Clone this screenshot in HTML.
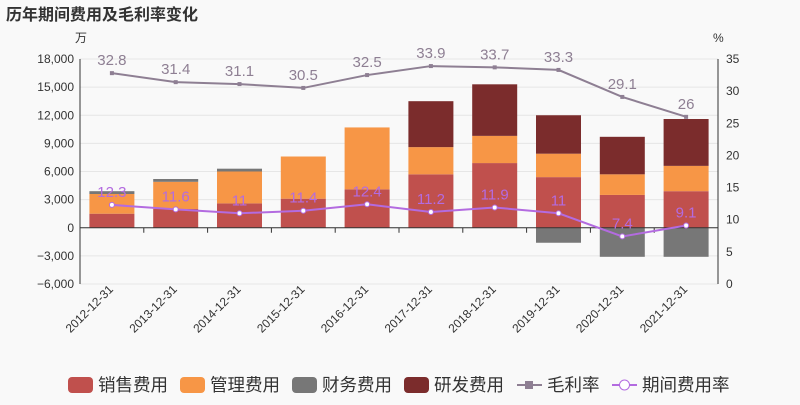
<!DOCTYPE html>
<html><head><meta charset="utf-8"><style>
body{margin:0;background:#f9f9f9;font-family:"Liberation Sans","Noto Sans CJK SC",sans-serif}
svg text{font-family:"Liberation Sans","Noto Sans CJK SC",sans-serif}
</style></head><body>
<svg id="c" width="800" height="400" xmlns="http://www.w3.org/2000/svg">
<rect width="800" height="400" fill="#f9f9f9"/>
<text x="6" y="20" font-size="16" font-weight="bold" fill="#333">历年期间费用及毛利率变化</text>
<text x="75" y="42" font-size="12" fill="#333">万</text>
<text x="713" y="42" font-size="12" fill="#333">%</text>
<g id="g"></g>
</svg>
<script>
const categories=["2012-12-31","2013-12-31","2014-12-31","2015-12-31","2016-12-31","2017-12-31","2018-12-31","2019-12-31","2020-12-31","2021-12-31"];
const sales=[1500,2000,2600,3100,4100,5700,6900,5400,3500,3900];
const admin=[2100,2900,3400,4500,6600,2900,2900,2500,2200,2700];
const finance=[300,300,300,0,0,0,0,-1600,-3100,-3100];
const rnd=[0,0,0,0,0,4900,5500,4100,4000,5000];
const grossMargin=[32.8,31.4,31.1,30.5,32.5,33.9,33.7,33.3,29.1,26];
const expenseRate=[12.3,11.6,11,11.4,12.4,11.2,11.9,11,7.4,9.1];
const leftTicks=[-6000,-3000,0,3000,6000,9000,12000,15000,18000];
const rightTicks=[0,5,10,15,20,25,30,35];
const L=80,R=718,T=59,B=284;
const yL=v=>B-(v+6000)/24000*(B-T);
const yR=v=>B-v/35*(B-T);
const step=(R-L)/categories.length;
const xC=i=>L+step*(i+0.5);
const g=document.getElementById('g');
const NS="http://www.w3.org/2000/svg";
function mk(t,a,txt){const e=document.createElementNS(NS,t);for(const k in a)e.setAttribute(k,a[k]);if(txt!==undefined)e.textContent=txt;g.appendChild(e);return e;}
leftTicks.forEach(v=>{
 const gl=mk('line',{x1:L,x2:R,y1:yL(v),y2:yL(v),stroke:'#e6e6e6'});
 
 
 const t=mk('text',{x:L-6,y:yL(v)+4,'text-anchor':'end','font-size':12,fill:'#333'},v.toLocaleString('en-US').replace('-','−'));
 
 
});
rightTicks.forEach(v=>{
 const t=mk('text',{x:R+8,y:yR(v)+4,'font-size':12,fill:'#333'},String(v));
 
 
});
mk('line',{x1:L,x2:L,y1:T,y2:B,stroke:'#333'});
mk('line',{x1:R,x2:R,y1:T,y2:B,stroke:'#333'});
const colors={sales:'#c0504d',admin:'#f79646',finance:'#777777',rnd:'#7b2c2c'};
const bw=45;
categories.forEach((c,i)=>{
 let pos=0,neg=0;
 [['sales',sales],['admin',admin],['finance',finance],['rnd',rnd]].forEach(([k,arr])=>{
  const v=arr[i]; if(!v)return;
  let y0,y1;
  if(v>0){y0=pos;y1=pos+v;pos=y1;}else{y0=neg;y1=neg+v;neg=y1;}
  const r=mk('rect',{x:xC(i)-bw/2,y:Math.min(yL(y0),yL(y1)),width:bw,height:Math.abs(yL(y0)-yL(y1)),fill:colors[k]});
  
  
 });
 const t=mk('text',{transform:`translate(${xC(i)+2},${B+6}) rotate(-45)`,'text-anchor':'end','font-size':12,fill:'#333'},c);
 
 
 if(i>0){mk('line',{x1:L+step*i,x2:L+step*i,y1:yL(0),y2:yL(0)+5,stroke:'#333'});}
});
mk('line',{x1:L,x2:R,y1:yL(0),y2:yL(0),stroke:'#333'});
function line(arr,color,name,circle){
 const p=mk('polyline',{points:arr.map((v,i)=>xC(i)+','+yR(v)).join(' '),fill:'none',stroke:color,'stroke-width':2});
 
 
 arr.forEach((v,i)=>{
  const m=circle?mk('circle',{cx:xC(i),cy:yR(v),r:2.5,fill:'#fff',stroke:color}):mk('rect',{x:xC(i)-2,y:yR(v)-2,width:4,height:4,fill:color});
  
  
  const t=mk('text',{x:xC(i),y:yR(v)-8,'text-anchor':'middle','font-size':15,fill:color},String(v));
  
  
 });
}
line(grossMargin,'#8e7f93','gross-margin',false);
line(expenseRate,'#b36be0','expense-rate',true);
const leg=[['销售费用',colors.sales,'bar'],['管理费用',colors.admin,'bar'],['财务费用',colors.finance,'bar'],['研发费用',colors.rnd,'bar'],['毛利率','#8e7f93','sq'],['期间费用率','#b36be0','ci']];
const lx=[68,180,292,404,517,612];
leg.forEach(([n,c,t],i)=>{
 const x=lx[i],y=385;
 let m;
 if(t==='bar')m=mk('rect',{x:x,y:y-8,width:25,height:16,rx:4,fill:c});
 else{mk('line',{x1:x,x2:x+25,y1:y,y2:y,stroke:c,'stroke-width':2});
  m=t==='sq'?mk('rect',{x:x+8,y:y-4,width:8,height:8,fill:c}):mk('circle',{cx:x+12.5,cy:y,r:5,fill:'#fff',stroke:c});}
 
 
 const tx=mk('text',{x:x+30,y:y+6,'font-size':17.5,fill:'#333'},n);
 
 
});
</script>
</body></html>
